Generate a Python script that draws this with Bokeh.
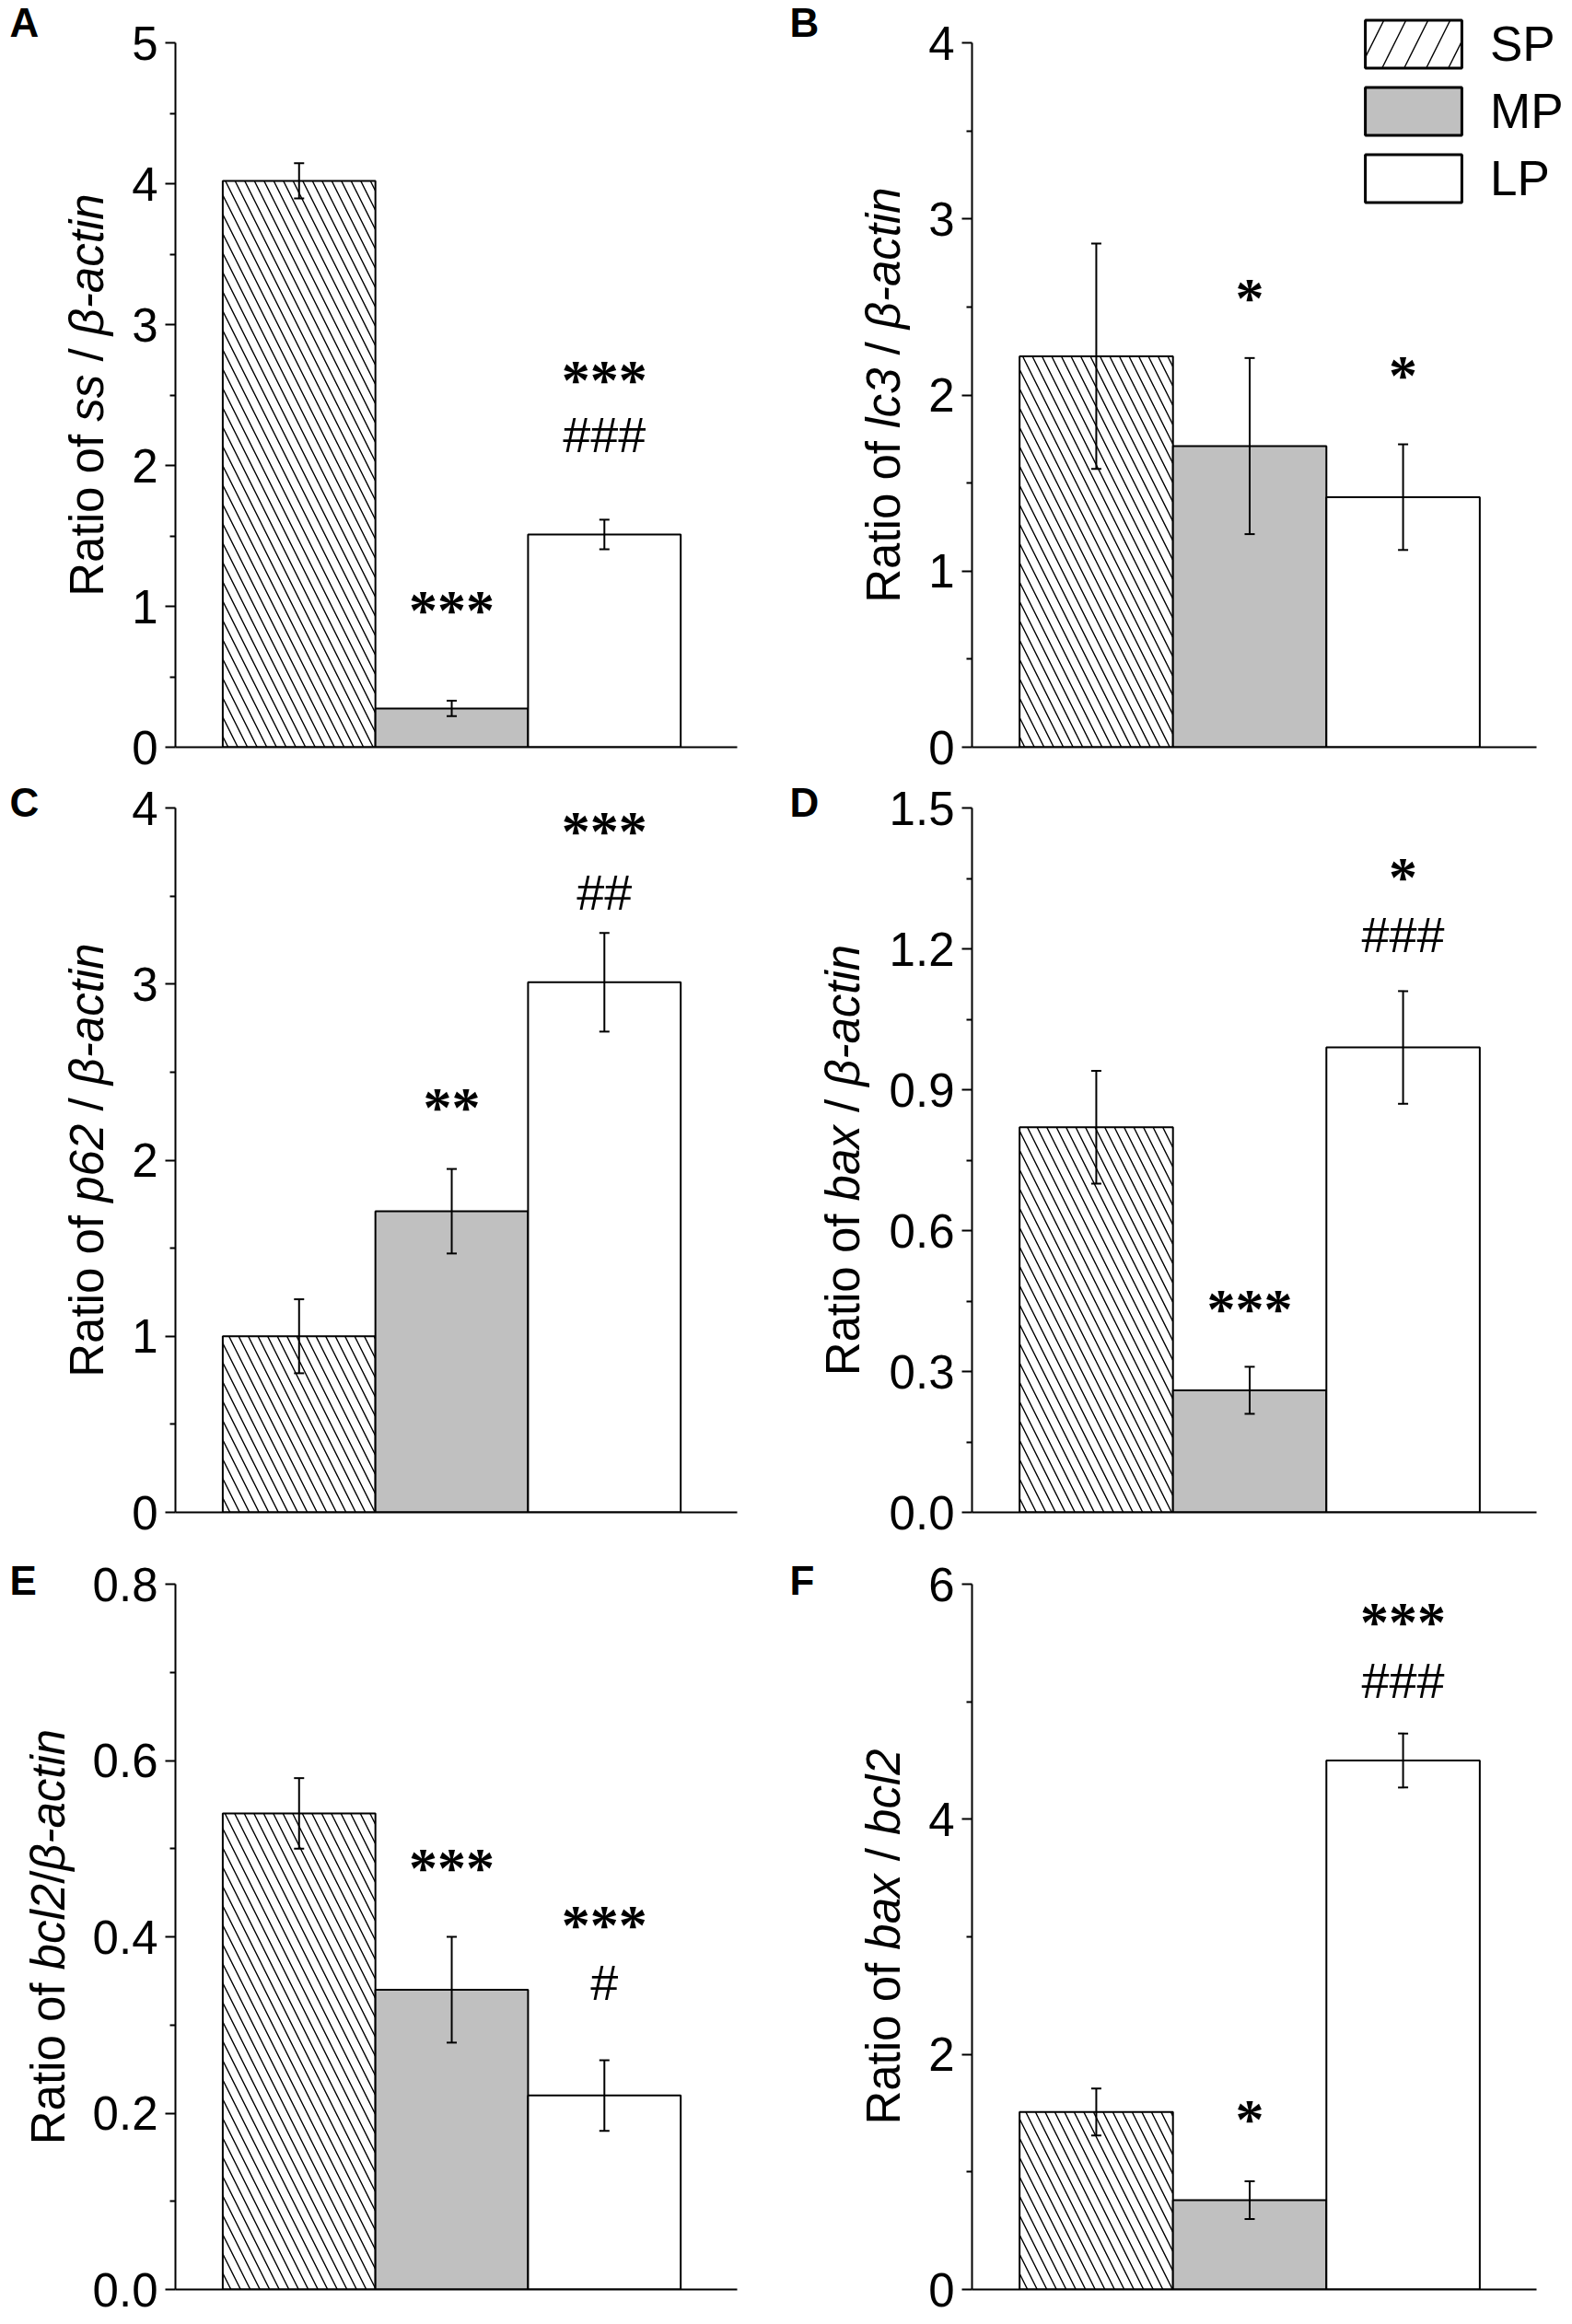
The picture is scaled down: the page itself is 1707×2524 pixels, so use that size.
import math
from bokeh.plotting import figure
from bokeh.models import (Range1d, FixedTicker, NumeralTickFormatter, Label, Whisker,
                          TeeHead, ColumnDataSource, Legend, LegendItem)
from bokeh.core.properties import value
from bokeh.layouts import column, row
from bokeh.embed import file_html
from bokeh.resources import INLINE

# ---------------- data ----------------
groups = ["SP", "MP", "LP"]
xpos = [1, 2, 3]

A_mean = [4.02, 0.275, 1.51]
A_err = [0.125, 0.055, 0.105]
B_mean = [2.22, 1.71, 1.42]
B_err = [0.64, 0.50, 0.30]
C_mean = [1.00, 1.71, 3.01]
C_err = [0.21, 0.24, 0.28]
D_mean = [0.82, 0.26, 0.99]
D_err = [0.12, 0.05, 0.12]
E_mean = [0.54, 0.34, 0.22]
E_err = [0.04, 0.06, 0.04]
F_mean = [1.51, 0.76, 4.50]
F_err = [0.20, 0.16, 0.23]

A_ticks = [0, 1, 2, 3, 4, 5]
B_ticks = [0, 1, 2, 3, 4]
C_ticks = [0, 1, 2, 3, 4]
D_ticks = [0.0, 0.3, 0.6, 0.9, 1.2, 1.5]
E_ticks = [0.0, 0.2, 0.4, 0.6, 0.8]
F_ticks = [0, 2, 4, 6]

A_minor = [0.5, 1.5, 2.5, 3.5, 4.5]
B_minor = [0.5, 1.5, 2.5, 3.5]
C_minor = [0.5, 1.5, 2.5, 3.5]
D_minor = [0.15, 0.45, 0.75, 1.05, 1.35]
E_minor = [0.1, 0.3, 0.5, 0.7]
F_minor = [1, 3, 5]

# significance marks: (group index, text, centre value)
A_sig = [(1, "***", 1.00), (2, "***", 2.63), (2, "###", 2.22)]
B_sig = [(1, "*", 2.57), (2, "*", 2.13)]
C_sig = [(1, "**", 2.32), (2, "***", 3.89), (2, "##", 3.52)]
D_sig = [(1, "***", 0.44), (2, "*", 1.36), (2, "###", 1.23)]
E_sig = [(1, "***", 0.482), (2, "***", 0.417), (2, "#", 0.348)]
F_sig = [(1, "*", 1.48), (2, "***", 5.71), (2, "###", 5.18)]

A_label = [("Ratio of ", "normal"), ("ss", "italic"), (" / ", "normal"), ("β-actin", "italic")]
B_label = [("Ratio of ", "normal"), ("lc3", "italic"), (" / ", "normal"), ("β-actin", "italic")]
C_label = [("Ratio of ", "normal"), ("p62", "italic"), (" / ", "normal"), ("β-actin", "italic")]
D_label = [("Ratio of ", "normal"), ("bax", "italic"), (" / ", "normal"), ("β-actin", "italic")]
E_label = [("Ratio of ", "normal"), ("bcl2", "italic"), ("/", "normal"), ("β-actin", "italic")]
F_label = [("Ratio of ", "normal"), ("bax", "italic"), (" / ", "normal"), ("bcl2", "italic")]

# ---------------- style / layout ----------------
FONT = "Liberation Sans"
SERIF = "Liberation Serif"
XR = (0.19, 3.87)

COL_LEFT = [0, 853]
COL_RIGHT = [853, 1707]
COL_FRAME_LEFT = [190, 1055]
COL_FW = [610, 613]
COL_LETTER_X = [10, 857]
ROW_TOP = [0, 848, 1690]
ROW_H = [848, 842, 834]
ROW_AXIS_TOP = [46, 877, 1720]
ROW_FRAME_BOTTOM = [811, 1642, 2486]
ROW_LETTER_CY = [24, 871, 1716]

# Arial / Liberation Sans advance widths (per 1000 em)
ADV = {' ': 278, 'R': 722, 'a': 556, 't': 278, 'i': 222, 'o': 556, 'f': 278, 's': 500,
       '/': 278, 'β': 574, '-': 333, 'c': 500, 'n': 556, 'l': 222, '3': 556, 'p': 556,
       '6': 556, '2': 556, 'b': 556, 'x': 500}

LABEL_FS = 51
TICK_FS = 51
STAR_FS = 62
HASH_FS = 54
LETTER_FS = 44
MID = 0.35          # distance of the "middle" anchor above the baseline, in em


def text_w(s, fs):
    return sum(ADV.get(ch, 556) for ch in s) / 1000.0 * fs


def row_geom(r):
    """every figure of a row shares the same frame top/bottom (bokeh aligns them)"""
    top = ROW_TOP[r]
    fb = ROW_FRAME_BOTTOM[r]
    return top, fb, fb - top, top + ROW_H[r] - fb


def make_strip(letter, label, baseline_x, strip_w, c, r):
    """narrow figure left of a panel holding the panel letter and the y title"""
    left = COL_LEFT[c]
    top, fb, fh_ext, bb = row_geom(r)
    s = figure(frame_width=strip_w, frame_height=fh_ext,
               x_range=Range1d(0, strip_w), y_range=Range1d(0, fh_ext),
               x_axis_type=None, y_axis_type=None, toolbar_location=None, title=None,
               output_backend="svg", min_border_left=0, min_border_right=0,
               min_border_top=0, min_border_bottom=bb)
    s.outline_line_color = None
    s.grid.visible = False

    def sy(py):
        return fb - py

    at = ROW_AXIS_TOP[r]
    total = sum(text_w(t, LABEL_FS) for t, _ in label)
    cur = (at + fb) / 2.0 + total / 2.0
    ax = baseline_x - MID * LABEL_FS - left
    for t, style in label:
        lead = len(t) - len(t.lstrip(" "))
        pos = cur - text_w(" " * lead, LABEL_FS)
        s.add_layout(Label(x=ax, y=sy(pos), text=t.strip(" "), angle=math.pi / 2,
                           text_align="left", text_baseline="middle",
                           text_font=FONT, text_font_style=style,
                           text_font_size=f"{LABEL_FS}px", text_color="black"))
        cur -= text_w(t, LABEL_FS)
    s.add_layout(Label(x=COL_LETTER_X[c] - left, y=sy(ROW_LETTER_CY[r]), text=letter,
                       text_align="left", text_baseline="middle", text_font=FONT,
                       text_font_style="bold", text_font_size=f"{LETTER_FS}px",
                       text_color="black"))
    return s


def make_panel(mean, err, ticks, minor, fmt, sig, strip_w, c, r, legend=False):
    ymax = ticks[-1]
    top, fb, fh_ext, bb = row_geom(r)
    fw = COL_FW[c]
    fl = COL_FRAME_LEFT[c]
    fh = fb - ROW_AXIS_TOP[r]
    ppx = fw / (XR[1] - XR[0])
    ppy = fh / ymax
    strip_right = COL_LEFT[c] + strip_w
    right_border = COL_RIGHT[c] - (fl + fw)

    ext_right = right_border if legend else 0
    x_end = XR[1] + ext_right / ppx
    y_end = ymax * fh_ext / fh

    p = figure(frame_width=fw + ext_right, frame_height=fh_ext,
               x_range=Range1d(XR[0], x_end), y_range=Range1d(0, y_end),
               output_backend="svg", toolbar_location=None, title=None,
               min_border_left=fl - strip_right, min_border_right=right_border - ext_right,
               min_border_top=0, min_border_bottom=bb)
    p.grid.visible = False
    p.outline_line_color = None
    p.background_fill_color = "white"
    p.border_fill_color = "white"

    ya = p.yaxis[0]
    ya.bounds = (0, ymax)
    ya.ticker = FixedTicker(ticks=ticks, minor_ticks=minor)
    ya.formatter = NumeralTickFormatter(format=fmt)
    ya.major_label_text_font = FONT
    ya.major_label_text_font_size = f"{TICK_FS}px"
    ya.major_label_text_color = "black"
    ya.major_label_standoff = 8
    ya.axis_line_width = 2
    ya.axis_line_color = "black"
    ya.major_tick_out = 11
    ya.major_tick_in = 0
    ya.minor_tick_out = 6
    ya.minor_tick_in = 0
    ya.major_tick_line_width = 2
    ya.minor_tick_line_width = 2
    ya.major_tick_line_color = "black"
    ya.minor_tick_line_color = "black"

    xa = p.xaxis[0]
    xa.bounds = XR
    xa.ticker = FixedTicker(ticks=[])
    xa.major_label_text_font_size = "0px"
    xa.major_tick_line_color = None
    xa.minor_tick_line_color = None
    xa.major_label_standoff = 0
    xa.axis_line_width = 2
    xa.axis_line_color = "black"

    src = ColumnDataSource(dict(
        x=xpos, top=mean,
        upper=[m + e for m, e in zip(mean, err)],
        lower=[m - e for m, e in zip(mean, err)],
        fill=["white", "#c0c0c0", "white"],
        hatch=["\\", " ", " "],
    ))
    p.vbar(x="x", top="top", bottom=0, width=1, source=src,
           fill_color="fill", line_color="black", line_width=2,
           hatch_pattern="hatch", hatch_scale=21, hatch_weight=1.4, hatch_color="black")
    p.add_layout(Whisker(source=src, base="x", upper="upper", lower="lower",
                         dimension="height", line_width=2, line_color="black",
                         level="overlay",
                         upper_head=TeeHead(size=11, line_width=2, line_color="black"),
                         lower_head=TeeHead(size=11, line_width=2, line_color="black")))

    # significance marks (centred on the given value)
    for gi, t, yc in sig:
        if "*" in t:
            anchor = yc - 0.05 * STAR_FS / ppy
            p.add_layout(Label(x=xpos[gi], y=anchor, text=t, text_align="center",
                               text_baseline="middle", text_font=SERIF,
                               text_font_style="bold", text_font_size=f"{STAR_FS}px",
                               text_color="black"))
        else:
            p.add_layout(Label(x=xpos[gi], y=yc, text=t, text_align="center",
                               text_baseline="middle", text_font=FONT,
                               text_font_size=f"{HASH_FS}px", text_color="black"))

    if legend:
        items = []
        fills = ["white", "#c0c0c0", "white"]
        hatches = ["/", " ", " "]
        for i, g in enumerate(groups):
            rr = p.vbar(x=[xpos[i]], top=[mean[i]], width=1, fill_color=fills[i],
                        line_color="black", line_width=3, hatch_pattern=hatches[i],
                        hatch_scale=48, hatch_weight=1.4, hatch_color="black",
                        visible=False)
            items.append(LegendItem(label=value(g), renderers=[rr]))
        leg = Legend(items=items, location=(1469 - fl, fb - 226), orientation="vertical",
                     glyph_width=131, glyph_height=65, label_height=65, label_standoff=18,
                     spacing=8, padding=0, margin=0, border_line_color=None,
                     background_fill_alpha=0, label_text_font=FONT,
                     label_text_font_size="53px", label_text_color="black",
                     label_text_baseline="middle")
        p.add_layout(leg)
    return p


# strip widths (title area) per panel and baseline x of the rotated titles
SW = dict(A=130, B=142, C=130, D=100, E=88, F=142)
BASE_X = dict(A=112, B=977, C=112, D=933, E=70, F=977)

sA = make_strip("A", A_label, BASE_X["A"], SW["A"], 0, 0)
pA = make_panel(A_mean, A_err, A_ticks, A_minor, "0", A_sig, SW["A"], 0, 0)
sB = make_strip("B", B_label, BASE_X["B"], SW["B"], 1, 0)
pB = make_panel(B_mean, B_err, B_ticks, B_minor, "0", B_sig, SW["B"], 1, 0, legend=True)
sC = make_strip("C", C_label, BASE_X["C"], SW["C"], 0, 1)
pC = make_panel(C_mean, C_err, C_ticks, C_minor, "0", C_sig, SW["C"], 0, 1)
sD = make_strip("D", D_label, BASE_X["D"], SW["D"], 1, 1)
pD = make_panel(D_mean, D_err, D_ticks, D_minor, "0.0", D_sig, SW["D"], 1, 1)
sE = make_strip("E", E_label, BASE_X["E"], SW["E"], 0, 2)
pE = make_panel(E_mean, E_err, E_ticks, E_minor, "0.0", E_sig, SW["E"], 0, 2)
sF = make_strip("F", F_label, BASE_X["F"], SW["F"], 1, 2)
pF = make_panel(F_mean, F_err, F_ticks, F_minor, "0", F_sig, SW["F"], 1, 2)

layout = column(row(sA, pA, sB, pB), row(sC, pC, sD, pD), row(sE, pE, sF, pF))

open("out.html", "w").write(file_html(layout, INLINE))
